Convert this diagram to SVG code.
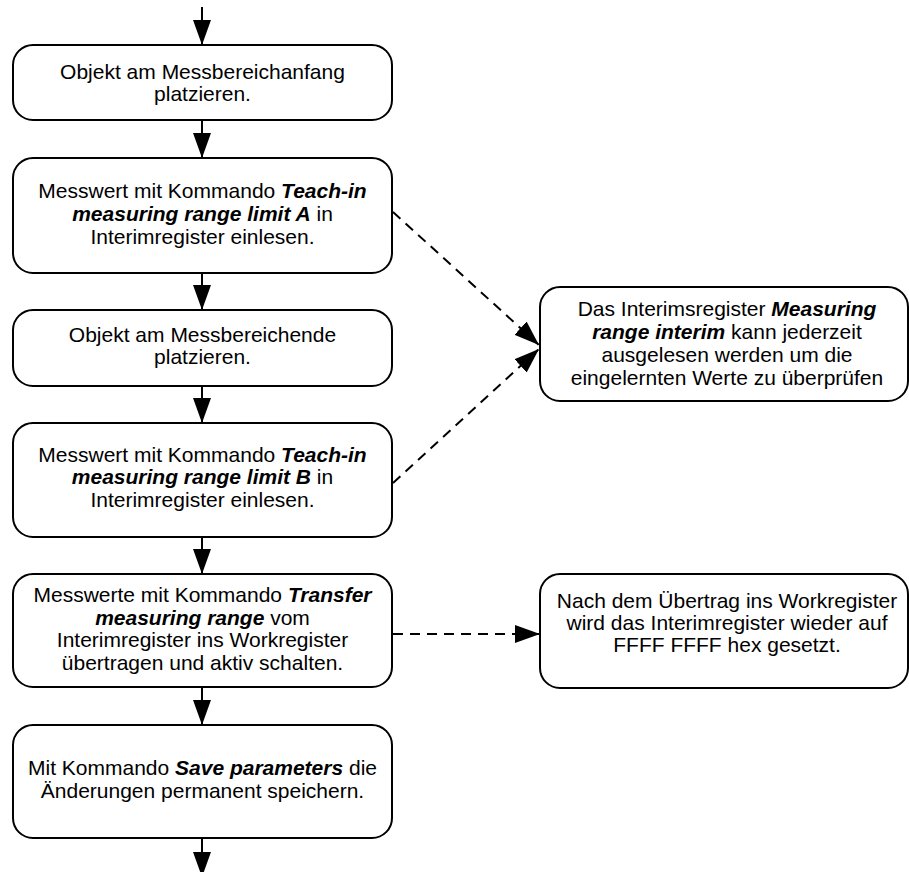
<svg xmlns="http://www.w3.org/2000/svg" width="909" height="872" viewBox="0 0 909 872">
<style>
.box{fill:#fff;stroke:#000;stroke-width:2}
.t{font-family:"Liberation Sans",Arial,sans-serif;font-size:21px;fill:#000;text-anchor:middle}
.b{font-weight:bold;font-style:italic}
.solid{stroke:#000;stroke-width:2;fill:none;marker-end:url(#ah)}
.dash{stroke:#000;stroke-width:2;fill:none;stroke-dasharray:10 7;marker-end:url(#ah)}
</style>
<defs>
<marker id="ah" markerUnits="userSpaceOnUse" markerWidth="26" markerHeight="18" refX="25" refY="9" orient="auto">
<path d="M0,0 L25,9 L0,18 z" fill="#000"/>
</marker>
</defs>
<rect width="909" height="872" fill="#fff"/>
<g id="connectors">
<line class="solid" x1="202" y1="7" x2="202" y2="45"/>
<line class="solid" x1="202" y1="120" x2="202" y2="158"/>
<line class="solid" x1="202" y1="273" x2="202" y2="310"/>
<line class="solid" x1="202" y1="386" x2="202" y2="423"/>
<line class="solid" x1="202" y1="537" x2="202" y2="574"/>
<line class="solid" x1="202" y1="687" x2="202" y2="725"/>
<line class="solid" x1="202" y1="838" x2="202" y2="877"/>
<line class="dash" x1="393" y1="212" x2="539" y2="345"/>
<line class="dash" x1="393" y1="483" x2="539" y2="349"/>
<line class="dash" x1="393" y1="634" x2="540" y2="634"/>
</g>
<g id="n1">
<rect class="box" x="13" y="45" width="379" height="75" rx="20"/>
<text class="t" x="202.5" y="79">Objekt am Messbereichanfang</text>
<text class="t" x="202.5" y="101">platzieren.</text>
</g>
<g id="n2">
<rect class="box" x="13" y="158" width="379" height="115" rx="20"/>
<text class="t" x="202.5" y="198">Messwert mit Kommando <tspan class="b">Teach-in</tspan></text>
<text class="t" x="202.5" y="221"><tspan class="b">measuring range limit A</tspan> in</text>
<text class="t" x="202.5" y="244">Interimregister einlesen.</text>
</g>
<g id="n3">
<rect class="box" x="13" y="310" width="379" height="76" rx="20"/>
<text class="t" x="202.5" y="342">Objekt am Messbereichende</text>
<text class="t" x="202.5" y="364">platzieren.</text>
</g>
<g id="n4">
<rect class="box" x="13" y="423" width="379" height="114" rx="20"/>
<text class="t" x="202.5" y="462">Messwert mit Kommando <tspan class="b">Teach-in</tspan></text>
<text class="t" x="202.5" y="484"><tspan class="b">measuring range limit B</tspan> in</text>
<text class="t" x="202.5" y="507">Interimregister einlesen.</text>
</g>
<g id="n5">
<rect class="box" x="13" y="574" width="379" height="113" rx="20"/>
<text class="t" x="202.5" y="602">Messwerte mit Kommando <tspan class="b">Transfer</tspan></text>
<text class="t" x="202.5" y="625"><tspan class="b">measuring range</tspan> vom</text>
<text class="t" x="202.5" y="647">Interimregister ins Workregister</text>
<text class="t" x="202.5" y="670">übertragen und aktiv schalten.</text>
</g>
<g id="n6">
<rect class="box" x="13" y="725" width="379" height="113" rx="20"/>
<text class="t" x="202.5" y="775">Mit Kommando <tspan class="b">Save parameters</tspan> die</text>
<text class="t" x="202.5" y="798">Änderungen permanent speichern.</text>
</g>
<g id="r1">
<rect class="box" x="540" y="287" width="368" height="114" rx="20"/>
<text class="t" x="727" y="316">Das Interimsregister <tspan class="b">Measuring</tspan></text>
<text class="t" x="727" y="339"><tspan class="b">range interim</tspan> kann jederzeit</text>
<text class="t" x="727" y="362">ausgelesen werden um die</text>
<text class="t" x="727" y="385">eingelernten Werte zu überprüfen</text>
</g>
<g id="r2">
<rect class="box" x="540" y="574" width="368" height="114" rx="20"/>
<text class="t" x="727" y="608">Nach dem Übertrag ins Workregister</text>
<text class="t" x="727" y="630">wird das Interimregister wieder auf</text>
<text class="t" x="727" y="652">FFFF FFFF hex gesetzt.</text>
</g>
</svg>
